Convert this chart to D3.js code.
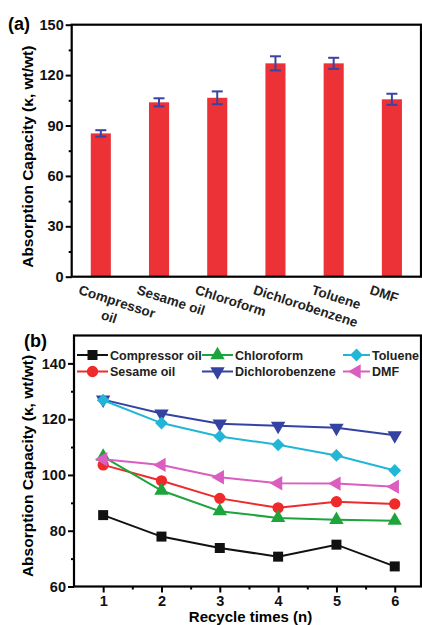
<!DOCTYPE html>
<html>
<head>
<meta charset="utf-8">
<script src="https://cdn.jsdelivr.net/npm/d3@7"></script>
<style>
  body { margin: 0; background: #fff; }
  svg { display: block; font-family: "Liberation Sans", Arial, sans-serif; font-weight: bold; }
</style>
</head>
<body>
<svg id="chart" width="422" height="625"></svg>
<script>
// panel (a) data
const solvents = ["Compressor oil", "Sesame oil", "Chloroform", "Dichlorobenzene", "Toluene", "DMF"];
const capacity = [85.3, 103.8, 106.5, 127, 127, 105.6];
const capacityErr = [1.9, 2.4, 3.8, 4.2, 3.3, 3.3];
const yTicksA = [0, 30, 60, 90, 120, 150];

// panel (b) data
const cycles = [1, 2, 3, 4, 5, 6];
const compressorOil = [85.6, 77.9, 73.8, 70.7, 75.0, 67.2];
const sesameOil = [103.6, 97.9, 91.6, 88.2, 90.4, 89.6];
const chloroform = [106.6, 94.4, 87.0, 84.6, 83.9, 83.6];
const dichlorobenzene = [127.0, 122.0, 118.4, 117.6, 116.9, 114.2];
const toluene = [126.8, 118.6, 113.8, 110.8, 107.0, 101.6];
const dmf = [105.6, 103.6, 99.2, 97.0, 96.9, 95.8];
const yTicksB = [60, 80, 100, 120, 140];

const svg = d3.select("#chart");

function styleAxis(g) {
    g.select(".domain").remove();
    g.selectAll(".tick line").attr("stroke", "#000").attr("stroke-width", 2);
    g.selectAll(".tick text").attr("fill", "#111").style("font-size", "14.5px").style("font-weight", "bold");
}

//////// panel (a)
const a = { left: 71.7, right: 421, top: 24.7, bottom: 276.7 };
const xA = d3.scalePoint().domain(solvents).range([a.left, a.right]).padding(0.5);
const yA = d3.scaleLinear().domain([0, 150]).range([a.bottom, a.top]);
const barW = xA.step() * 0.345;

const gA = svg.append("g");

gA.append("g")
    .attr("transform", `translate(${a.left},0)`)
    .call(d3.axisLeft(yA).tickValues(d3.range(15, 150, 30)).tickSize(3).tickFormat(""))
    .call(styleAxis);
gA.append("g")
    .attr("transform", `translate(${a.left},0)`)
    .call(d3.axisLeft(yA).tickValues(yTicksA).tickSize(6).tickPadding(2).tickFormat(d3.format("d")))
    .call(styleAxis);

gA.selectAll(".bar")
    .data(solvents)
    .join("rect")
    .attr("x", d => xA(d) - barW / 2)
    .attr("y", (d, i) => yA(capacity[i]))
    .attr("width", barW)
    .attr("height", (d, i) => yA(0) - yA(capacity[i]))
    .attr("fill", "#ec3236");

const err = gA.selectAll(".err")
    .data(solvents)
    .join("g")
    .attr("stroke", "#3a43a3")
    .attr("stroke-width", 2);
err.append("line")
    .attr("x1", d => xA(d)).attr("x2", d => xA(d))
    .attr("y1", (d, i) => yA(capacity[i] + capacityErr[i]))
    .attr("y2", (d, i) => yA(capacity[i] - capacityErr[i]));
err.append("line")
    .attr("x1", d => xA(d) - 5.5).attr("x2", d => xA(d) + 5.5)
    .attr("y1", (d, i) => yA(capacity[i] + capacityErr[i]))
    .attr("y2", (d, i) => yA(capacity[i] + capacityErr[i]));
err.append("line")
    .attr("x1", d => xA(d) - 5.5).attr("x2", d => xA(d) + 5.5)
    .attr("y1", (d, i) => yA(capacity[i] - capacityErr[i]))
    .attr("y2", (d, i) => yA(capacity[i] - capacityErr[i]));

gA.append("rect")
    .attr("x", a.left).attr("y", a.top)
    .attr("width", a.right - a.left).attr("height", a.bottom - a.top)
    .attr("fill", "none").attr("stroke", "#000").attr("stroke-width", 2.2);

// rotated category labels
const labA = gA.selectAll(".lab")
    .data(solvents)
    .join("text")
    .attr("transform", d => `translate(${xA(d) - 23},${a.bottom + 17}) rotate(18)`)
    .style("font-size", "13.5px")
    .attr("fill", "#222");
labA.each(function (d) {
    const t = d3.select(this);
    if (d === "Compressor oil") {
        t.append("tspan").attr("x", 0).attr("dy", 0).text("Compressor");
        t.append("tspan").attr("x", 29).attr("dy", 17).text("oil");
    } else {
        t.text(d);
    }
});

gA.append("text")
    .attr("transform", `translate(33,${(a.top + a.bottom) / 2 + 6}) rotate(-90)`)
    .attr("text-anchor", "middle")
    .style("font-size", "15.5px")
    .text("Absorption Capacity (κ, wt/wt)");

gA.append("text").attr("x", 8).attr("y", 30).style("font-size", "18px").text("(a)");

//////// panel (b)
const b = { left: 74, right: 421, top: 335.5, bottom: 586.5 };
const xB = d3.scaleLinear().domain([0.5, 6.45]).range([b.left, b.right]);
const yB = d3.scaleLinear().domain([60, 150]).range([b.bottom, b.top]);

const gB = svg.append("g");

gB.append("g")
    .attr("transform", `translate(${b.left},0)`)
    .call(d3.axisLeft(yB).tickValues(d3.range(70, 150, 20)).tickSize(3).tickFormat(""))
    .call(styleAxis);
gB.append("g")
    .attr("transform", `translate(${b.left},0)`)
    .call(d3.axisLeft(yB).tickValues(yTicksB).tickSize(6).tickPadding(2))
    .call(styleAxis);
gB.append("g")
    .attr("transform", `translate(0,${b.bottom})`)
    .call(d3.axisBottom(xB).tickValues(d3.range(1.5, 6.5, 1)).tickSize(3).tickFormat(""))
    .call(styleAxis);
gB.append("g")
    .attr("transform", `translate(0,${b.bottom})`)
    .call(d3.axisBottom(xB).tickValues(cycles).tickSize(6).tickPadding(3).tickFormat(d3.format("d")))
    .call(styleAxis);

gB.append("rect")
    .attr("x", b.left).attr("y", b.top)
    .attr("width", b.right - b.left).attr("height", b.bottom - b.top)
    .attr("fill", "none").attr("stroke", "#000").attr("stroke-width", 2.2);

const series = [
    { name: "Compressor oil", values: compressorOil, color: "#111111", type: d3.symbolSquare, size: 100, rot: 0 },
    { name: "Sesame oil", values: sesameOil, color: "#ee2a2a", type: d3.symbolCircle, size: 100, rot: 0 },
    { name: "Chloroform", values: chloroform, color: "#1ea43c", type: d3.symbolTriangle, size: 90, rot: 0 },
    { name: "Dichlorobenzene", values: dichlorobenzene, color: "#3442a2", type: d3.symbolTriangle, size: 90, rot: 180 },
    { name: "Toluene", values: toluene, color: "#22b6d6", type: d3.symbolSquare, size: 82, rot: 45 },
    { name: "DMF", values: dmf, color: "#d95ebf", type: d3.symbolTriangle, size: 90, rot: -90 }
];

const line = d3.line().x((d, i) => xB(cycles[i])).y(d => yB(d));

series.forEach(s => {
    const g = gB.append("g");
    g.append("path")
        .attr("d", line(s.values))
        .attr("fill", "none")
        .attr("stroke", s.color)
        .attr("stroke-width", 2);
    g.selectAll("path.m")
        .data(s.values)
        .join("path")
        .attr("class", "m")
        .attr("d", d3.symbol().type(s.type).size(s.size))
        .attr("transform", (d, i) => `translate(${xB(cycles[i])},${yB(d)}) rotate(${s.rot})`)
        .attr("fill", s.color);
});

// legend: 3 columns x 2 rows
const legCols = [{ x0: 77, x1: 108 }, { x0: 202, x1: 233 }, { x0: 343, x1: 370 }];
const legRows = [355, 371.5];
const legOrder = [0, 2, 4, 1, 3, 5];
legOrder.forEach((si, k) => {
    const s = series[si];
    const col = legCols[k % 3];
    const y = legRows[Math.floor(k / 3)];
    const g = gB.append("g");
    g.append("line")
        .attr("x1", col.x0).attr("x2", col.x1)
        .attr("y1", y).attr("y2", y)
        .attr("stroke", s.color).attr("stroke-width", 2);
    g.append("path")
        .attr("d", d3.symbol().type(s.type).size(s.size))
        .attr("transform", `translate(${(col.x0 + col.x1) / 2},${y}) rotate(${s.rot})`)
        .attr("fill", s.color);
    g.append("text")
        .attr("x", col.x1 + 2).attr("y", y + 4.5)
        .style("font-size", "12.5px")
        .attr("fill", "#222")
        .text(s.name);
});

gB.append("text")
    .attr("transform", `translate(33,${(b.top + b.bottom) / 2 + 5}) rotate(-90)`)
    .attr("text-anchor", "middle")
    .style("font-size", "15.5px")
    .text("Absorption Capacity (κ, wt/wt)");

gB.append("text")
    .attr("x", (b.left + b.right) / 2 + 3).attr("y", 622)
    .attr("text-anchor", "middle")
    .style("font-size", "15px")
    .text("Recycle times (n)");

gB.append("text").attr("x", 24).attr("y", 347).style("font-size", "18px").text("(b)");
</script>
</body>
</html>
